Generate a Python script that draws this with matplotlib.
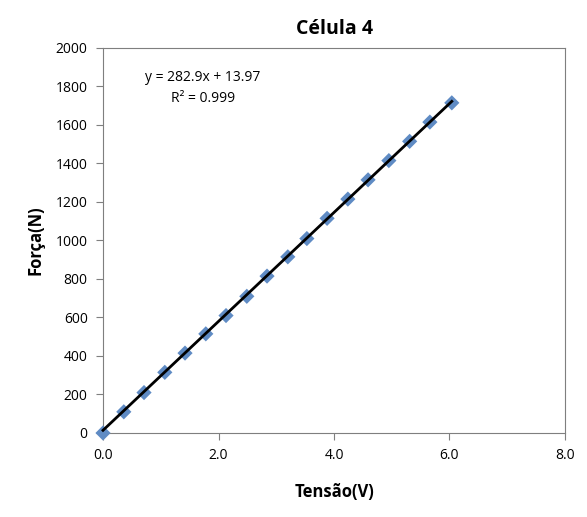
import matplotlib.pyplot as plt
import numpy as np

# dados
tensao = [0.0, 0.36, 0.71, 1.07, 1.42, 1.78, 2.13, 2.49, 2.84, 3.20,
          3.53, 3.88, 4.24, 4.59, 4.95, 5.31, 5.66, 6.04]
forca = [0, 110, 210, 315, 415, 515, 610, 710, 815, 915,
         1010, 1115, 1215, 1315, 1415, 1515, 1615, 1715]
coef_a, coef_b = 282.9, 13.97
x_ticks = [0.0, 2.0, 4.0, 6.0, 8.0]
y_ticks = list(range(0, 2001, 200))

plt.rcParams['font.family'] = ['Open Sans', 'DejaVu Sans']

fig = plt.figure(figsize=(5.87, 5.17), dpi=100)
ax = fig.add_axes([0.1755, 0.1625, 0.787, 0.7447])

ax.scatter(tensao, forca, marker='D', s=60, color='#5f8bc4', edgecolors='none',
           zorder=3, clip_on=False)

# linha de tendência
xl = np.array([tensao[0], tensao[-1]])
ax.plot(xl, coef_a * xl + coef_b, color='black', lw=2, zorder=4, clip_on=False)

ax.set_xlim(0, 8)
ax.set_ylim(0, 2000)
ax.set_xticks(x_ticks)
ax.set_xticklabels([f'{v:.1f}' for v in x_ticks])
ax.set_yticks(y_ticks)
for s in ax.spines.values():
    s.set_color('#7f7f7f')
ax.tick_params(direction='out', length=5, color='#7f7f7f', labelsize=10, pad=6)

ax.set_title('Célula 4', fontsize=14, fontweight='bold', pad=10)
ax.set_xlabel('Tensão(V)', fontsize=12, fontweight='bold', labelpad=14)
ax.set_ylabel('Força(N)', fontsize=12, fontweight='bold', labelpad=8)

ax.text(1.73, 1849, 'y = 282.9x + 13.97', ha='center', va='center', fontsize=10)
ax.text(1.73, 1737, 'R² = 0.999', ha='center', va='center', fontsize=10)

fig.savefig('out.png', dpi=100)
